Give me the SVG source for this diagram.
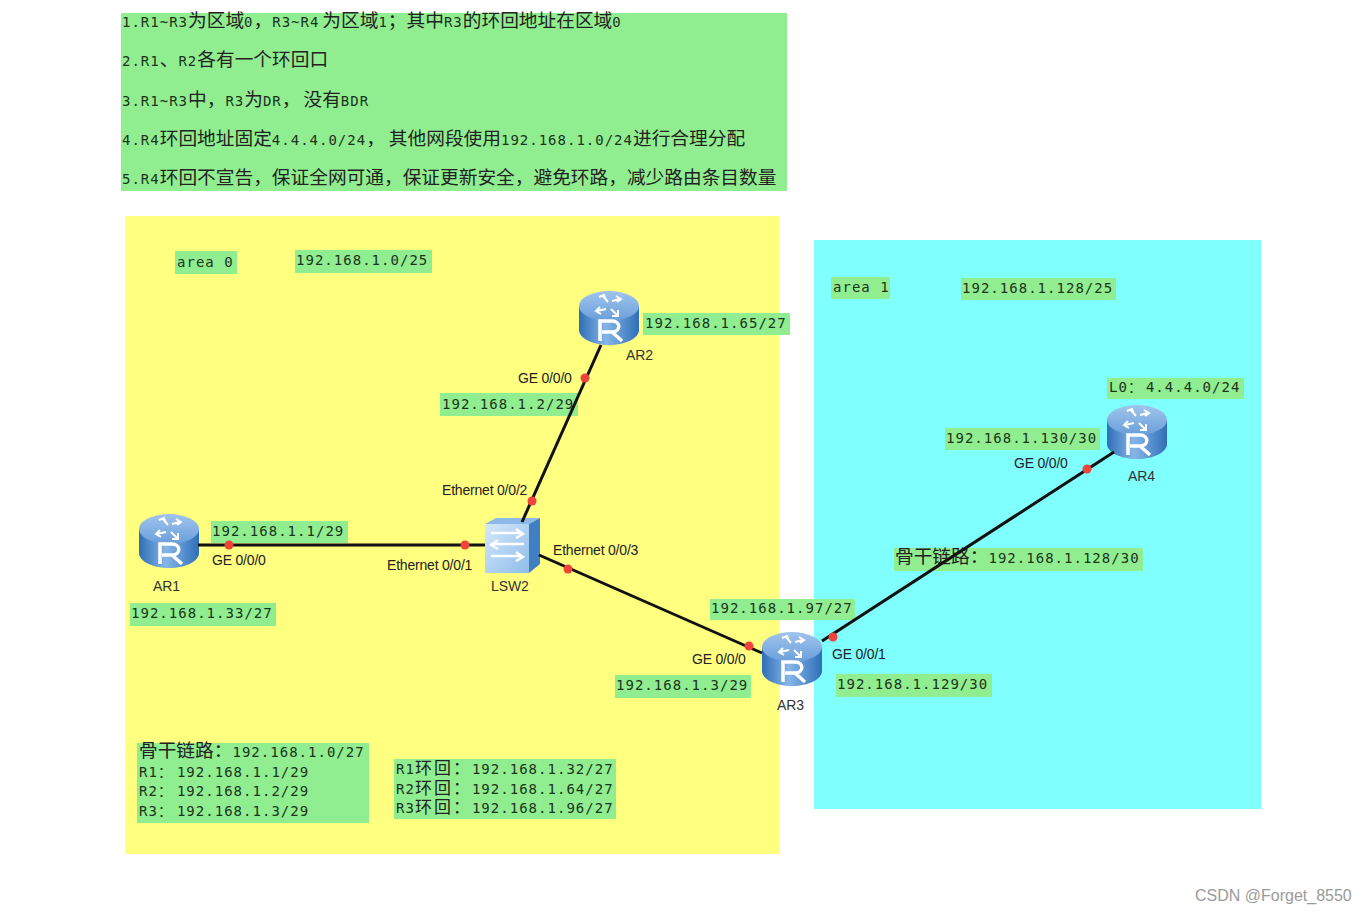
<svg xmlns="http://www.w3.org/2000/svg" width="1367" height="914" viewBox="0 0 1367 914">
<style>
.g{fill:#90ee90}
.m{font-family:"DejaVu Sans Mono","Noto Sans CJK SC",monospace;font-size:14px;letter-spacing:1.02px;fill:#1c331c}
.h{font-family:"DejaVu Sans Mono","Noto Sans CJK SC",monospace;font-size:14px;letter-spacing:1px;fill:#1c331c}
.c{font-family:"Noto Sans CJK SC",sans-serif;font-size:18.7px;letter-spacing:0;fill:#222}
.s{font-family:"Noto Sans CJK SC",sans-serif;font-size:17px;letter-spacing:2px;fill:#222}
.l{font-family:"Liberation Sans",Arial,sans-serif;font-size:14px;fill:#222;letter-spacing:-.2px}
.n{font-family:"Liberation Sans",Arial,sans-serif;font-size:14px;fill:#333;letter-spacing:-.1px}
.w{stroke:#111;stroke-width:3;fill:none}
.d{fill:#f0433a}
</style>
<defs>
<linearGradient id="rb" x1="0" x2="1" y1="0" y2="0"><stop offset="0" stop-color="#2f6fb8"/><stop offset=".45" stop-color="#86b6e8"/><stop offset="1" stop-color="#2f6fb8"/></linearGradient>
<linearGradient id="rt" x1="0" x2="0" y1="0" y2="1"><stop offset="0" stop-color="#a0c4ec"/><stop offset="1" stop-color="#6a9fdb"/></linearGradient>
<linearGradient id="sf" x1="0" x2="1" y1="0" y2="1"><stop offset="0" stop-color="#d4e8fa"/><stop offset="1" stop-color="#8fbdea"/></linearGradient>
<g id="router">
<path d="M0 15V39C0 47 13 54 30 54S60 47 60 39V15Z" fill="url(#rb)"/>
<ellipse cx="30" cy="15" rx="30" ry="15" fill="url(#rt)"/>
<g fill="none" stroke="#fff" stroke-width="2"><path d="M29 11L24 5M20 6L25 4L27 9M33 10L41 8M37 5L42 8L38 11M27 18L18 20M22 23L17 20L21 16M32 18L38 24M39 19L39 25L33 25"/></g>
<path d="M21 50V30H33C42 30 42 41 33 41H23M33 41L43 50" stroke="#fff" stroke-width="3.5" fill="none"/>
</g>
</defs>

<rect x="125" y="216" width="655" height="638" fill="#ffff80"/>
<rect x="814" y="240" width="447" height="569" fill="#80ffff"/>

<g id="notes">
<rect class="g" x="121" y="13" width="666" height="178"/>
<text class="h" x="122" y="27">1.R1~R3<tspan class="c">为区域</tspan>0<tspan class="c">&#xFF0C;</tspan>R3~R4<tspan class="c" dx="3">为区域</tspan>1<tspan class="c">&#xFF1B;其中</tspan>R3<tspan class="c">的环回地址在区域</tspan>0</text>
<text class="h" x="122" y="66">2.R1<tspan class="c">、</tspan>R2<tspan class="c">各有一个环回口</tspan></text>
<text class="h" x="122" y="106">3.R1~R3<tspan class="c">中&#xFF0C;</tspan>R3<tspan class="c">为</tspan>DR<tspan class="c">&#xFF0C;</tspan><tspan class="c" dx="3">没有</tspan>BDR</text>
<text class="h" x="122" y="145">4.R4<tspan class="c">环回地址固定</tspan>4.4.4.0/24<tspan class="c">&#xFF0C;</tspan><tspan class="c" dx="4">其他网段使用</tspan>192.168.1.0/24<tspan class="c">进行合理分配</tspan></text>
<text class="h" x="122" y="184">5.R4<tspan class="c">环回不宣告&#xFF0C;保证全网可通&#xFF0C;保证更新安全&#xFF0C;避免环路&#xFF0C;减少路由条目数量</tspan></text>
</g>

<g id="area0-labels">
<rect class="g" x="175" y="251" width="62" height="23"/><text class="m" x="177" y="267">area 0</text>
<rect class="g" x="295" y="250" width="137" height="23"/><text class="m" x="296" y="265">192.168.1.0/25</text>
</g>
<g id="area1-labels">
<rect class="g" x="831" y="277" width="59" height="22"/><text class="m" x="833" y="292">area 1</text>
<rect class="g" x="961" y="278" width="155" height="22"/><text class="m" x="962" y="293">192.168.1.128/25</text>
</g>

<g id="link-labels">
<rect class="g" x="440" y="393" width="138" height="23"/><text class="m" x="442" y="409">192.168.1.2/29</text>
<rect class="g" x="894" y="548" width="249" height="23"/><text class="m" x="895" y="563"><tspan class="c">骨干链路&#xFF1A;</tspan>192.168.1.128/30</text>
</g>

<g id="AR2"><use href="#router" x="579" y="291"/><text class="n" x="626" y="360">AR2</text>
<rect class="g" x="643" y="313" width="147" height="22"/><text class="m" x="645" y="328">192.168.1.65/27</text></g>
<g id="AR1"><use href="#router" x="139" y="514"/><text class="n" x="153" y="591">AR1</text>
<rect class="g" x="130" y="603" width="146" height="23"/><text class="m" x="131" y="618">192.168.1.33/27</text>
<rect class="g" x="211" y="521" width="137" height="22"/><text class="m" x="212" y="536">192.168.1.1/29</text></g>
<g id="AR3"><use href="#router" x="762" y="632"/><text class="n" x="777" y="710">AR3</text>
<rect class="g" x="710" y="599" width="145" height="21"/><text class="m" x="711" y="613">192.168.1.97/27</text>
<rect class="g" x="615" y="675" width="136" height="23"/><text class="m" x="616" y="690">192.168.1.3/29</text>
<rect class="g" x="836" y="674" width="156" height="23"/><text class="m" x="837" y="689">192.168.1.129/30</text></g>
<g id="AR4"><use href="#router" x="1107" y="405"/><text class="n" x="1128" y="481">AR4</text>
<rect class="g" x="1107" y="378" width="137" height="21"/><text class="m" x="1109" y="392">L0&#xFF1A;<tspan dx="3">4.4.4.0/24</tspan></text>
<rect class="g" x="945" y="428" width="155" height="22"/><text class="m" x="946" y="443">192.168.1.130/30</text></g>

<g id="LSW2">
<path d="M485 524L496 518H540L529 524Z" fill="#8db9e6"/>
<path d="M529 524L540 518V564L529 573Z" fill="#3f7fc4"/>
<rect x="485" y="524" width="44" height="49" fill="url(#sf)"/>
<g stroke="#fff" stroke-width="2.4" fill="none"><path d="M491 533H522M516 529L523 534L516 538M524 544H492M498 540L491 545L498 549M491 556H522M516 552L523 557L516 561"/></g>
<text class="n" x="491" y="591">LSW2</text>
</g>

<g id="connectors">
<path class="w" d="M198 545H485"/>
<path class="w" d="M601 345L522 522"/>
<path class="w" d="M539 555L762 653"/>
<path class="w" d="M822 641L1114 452"/>
<circle class="d" cx="229" cy="545" r="4.5"/>
<circle class="d" cx="465" cy="545" r="4.5"/>
<circle class="d" cx="585" cy="378" r="4.5"/>
<circle class="d" cx="532" cy="501" r="4.5"/>
<circle class="d" cx="568" cy="569" r="4.5"/>
<circle class="d" cx="749" cy="646" r="4.5"/>
<circle class="d" cx="833" cy="637" r="4.5"/>
<circle class="d" cx="1087" cy="469" r="4.5"/>
</g>

<g id="port-labels">
<text class="l" x="212" y="565">GE 0/0/0</text>
<text class="l" x="387" y="570">Ethernet 0/0/1</text>
<text class="l" x="518" y="383">GE 0/0/0</text>
<text class="l" x="442" y="495">Ethernet 0/0/2</text>
<text class="l" x="553" y="555">Ethernet 0/0/3</text>
<text class="l" x="692" y="664">GE 0/0/0</text>
<text class="l" x="832" y="659">GE 0/0/1</text>
<text class="l" x="1014" y="468">GE 0/0/0</text>
</g>

<g id="summary">
<rect class="g" x="137" y="743" width="232" height="80"/>
<text class="m" x="139" y="757"><tspan class="c">骨干链路&#xFF1A;</tspan>192.168.1.0/27</text>
<text class="m" x="139" y="777">R1&#xFF1A;<tspan dx="4">192.168.1.1/29</tspan></text>
<text class="m" x="139" y="796">R2&#xFF1A;<tspan dx="4">192.168.1.2/29</tspan></text>
<text class="m" x="139" y="816">R3&#xFF1A;<tspan dx="4">192.168.1.3/29</tspan></text>
<rect class="g" x="394" y="759" width="222" height="60"/>
<text class="m" x="396" y="774">R1<tspan class="s">环回&#xFF1A;</tspan>192.168.1.32/27</text>
<text class="m" x="396" y="794">R2<tspan class="s">环回&#xFF1A;</tspan>192.168.1.64/27</text>
<text class="m" x="396" y="813">R3<tspan class="s">环回&#xFF1A;</tspan>192.168.1.96/27</text>
</g>

<text x="1195" y="901" font-family="'Liberation Sans',Arial,sans-serif" font-size="16" fill="#9a9a9a">CSDN @Forget_8550</text>
</svg>
